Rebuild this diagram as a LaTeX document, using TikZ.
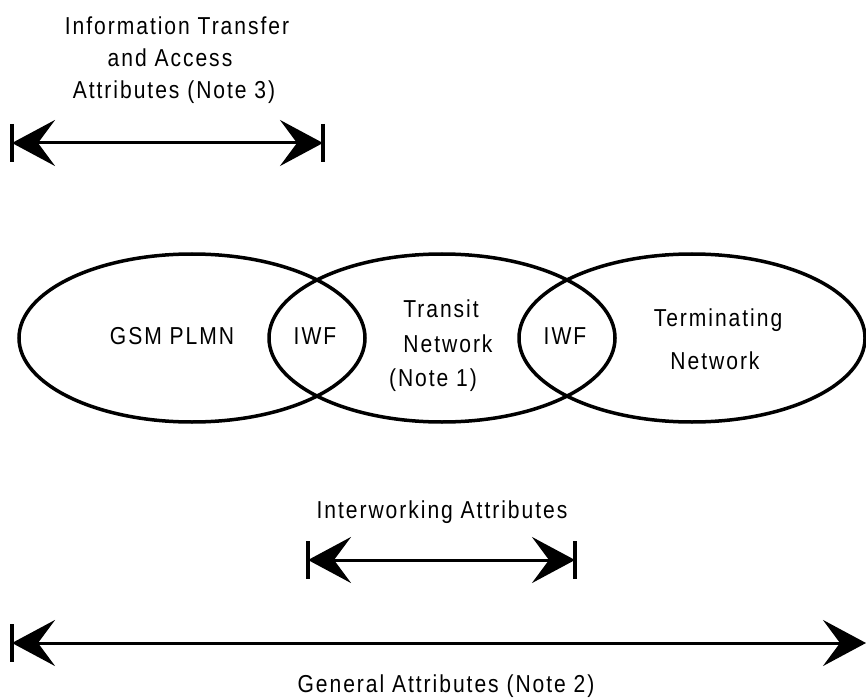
\documentclass[tikz,border=0pt]{standalone}
\usepackage{fontspec}
\setmainfont{Liberation Sans}[LetterSpace=8,FakeStretch=0.86]
\usetikzlibrary{arrows.meta,shapes.geometric}
\begin{document}
\begin{tikzpicture}[x=1pt,y=-1pt,
  lbl/.style={anchor=base,inner sep=0pt,font=\fontsize{24.5pt}{28pt}\selectfont},
  netell/.style={draw,ellipse,line width=3.5pt,minimum width=346pt,minimum height=168pt,inner sep=0pt},
  dimarrow/.style={line width=3pt,{Stealth[length=43pt,width=46pt,inset=17pt]}-{Stealth[length=43pt,width=46pt,inset=17pt]}},
  endbar/.style={line width=4.5pt}]
\useasboundingbox (0,0) rectangle (866,700);
% networks
\node[netell] (e1) at (192,338) {};
\node[netell] (e2) at (442,338) {};
\node[netell] (e3) at (692,338) {};
% labels inside
\node[lbl] (gsm) at (172,344) {GSM PLMN};
\node[lbl] (iwf1) at (315,344) {IWF};
\node[lbl] (tr1) at (441,317) {Transit};
\node[lbl] (tr2) at (448,352) {Network};
\node[lbl] (tr3) at (433,386) {(Note 1)};
\node[lbl] (iwf2) at (565,344) {IWF};
\node[lbl] (tm1) at (718,326) {Terminating};
\node[lbl] (tm2) at (715,369) {Network};
% top attribute
\node[lbl] (ia1) at (177,35) {Information Transfer};
\node[lbl] (ia2) at (170,67) {and Access};
\node[lbl] (ia3) at (174,99) {Attributes (Note 3)};
\coordinate (ta) at (12,143);
\coordinate (tb) at (323,143);
\draw[dimarrow] (ta) -- (tb);
\draw[endbar] ([yshift=19pt]ta) -- ([yshift=-19pt]ta);
\draw[endbar] ([yshift=19pt]tb) -- ([yshift=-19pt]tb);
% interworking attribute
\node[lbl] (iw) at (442,518) {Interworking Attributes};
\coordinate (ma) at (308,560);
\coordinate (mb) at (575,560);
\draw[dimarrow] (ma) -- (mb);
\draw[endbar] ([yshift=19pt]ma) -- ([yshift=-19pt]ma);
\draw[endbar] ([yshift=19pt]mb) -- ([yshift=-19pt]mb);
% general attribute
\coordinate (ga) at (12,643);
\coordinate (gb) at (866,643);
\draw[dimarrow] (ga) -- (gb);
\draw[endbar] ([yshift=19pt]ga) -- ([yshift=-19pt]ga);
\node[lbl] (gen) at (446,692) {General Attributes (Note 2)};
\end{tikzpicture}
\end{document}
